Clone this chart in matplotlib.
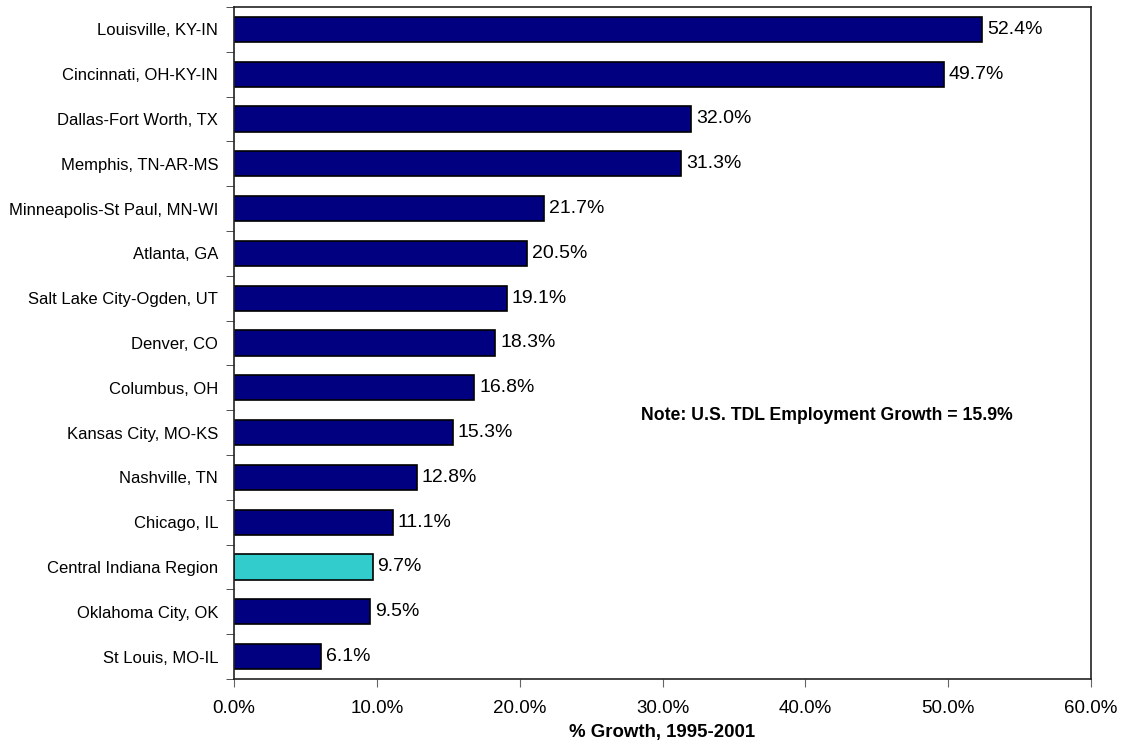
import numpy as np
import matplotlib.pyplot as plt
from matplotlib.ticker import FuncFormatter

# data, top to bottom as shown
cities = ['Louisville, KY-IN', 'Cincinnati, OH-KY-IN', 'Dallas-Fort Worth, TX',
          'Memphis, TN-AR-MS', 'Minneapolis-St Paul, MN-WI', 'Atlanta, GA',
          'Salt Lake City-Ogden, UT', 'Denver, CO', 'Columbus, OH',
          'Kansas City, MO-KS', 'Nashville, TN', 'Chicago, IL',
          'Central Indiana Region', 'Oklahoma City, OK', 'St Louis, MO-IL']
growth = [52.4, 49.7, 32.0, 31.3, 21.7, 20.5, 19.1, 18.3, 16.8, 15.3, 12.8, 11.1, 9.7, 9.5, 6.1]
highlight = 'Central Indiana Region'

plt.rcParams['font.family'] = ['Liberation Sans', 'DejaVu Sans']

fig = plt.figure(figsize=(11.22, 7.49), dpi=100)
ax = fig.add_axes([0.2086, 0.0935, 0.7638, 0.8972])

y = np.arange(len(cities))
colors = ['#33CCCC' if c == highlight else '#000080' for c in cities]
ax.barh(y, growth, height=0.56, color=colors, edgecolor='black', linewidth=1.2)

for yi, v in zip(y, growth):
    ax.text(v + 0.35, yi, f'{v:.1f}%', va='center', ha='left', fontsize=14)

ax.set_ylim(len(cities) - 0.5, -0.5)
ax.set_xlim(0, 60)
ax.set_xticks(np.arange(0, 61, 10))
ax.xaxis.set_major_formatter(FuncFormatter(lambda v, p: f'{v:.1f}%'))

# category labels centred, ticks between categories
ax.set_yticks(y)
ax.set_yticklabels(cities, fontsize=12)
ax.tick_params(axis='y', which='major', length=0, pad=11.5)
ax.set_yticks(np.arange(-0.5, len(cities), 1), minor=True)
ax.tick_params(axis='y', which='minor', length=6, direction='out', color='#333333')
ax.tick_params(axis='x', labelsize=13.5, length=6, direction='out', color='#666666', pad=9)

for s in ax.spines.values():
    s.set_linewidth(1.2)
    s.set_color('#222222')

ax.set_xlabel('% Growth, 1995-2001', fontsize=13.4, fontweight='bold', labelpad=5)
fig.text(827 / 1122, 1 - 415 / 749, 'Note: U.S. TDL Employment Growth = 15.9%',
         fontsize=12.7, fontweight='bold', va='center', ha='center')

fig.savefig('out.png', dpi=100)
